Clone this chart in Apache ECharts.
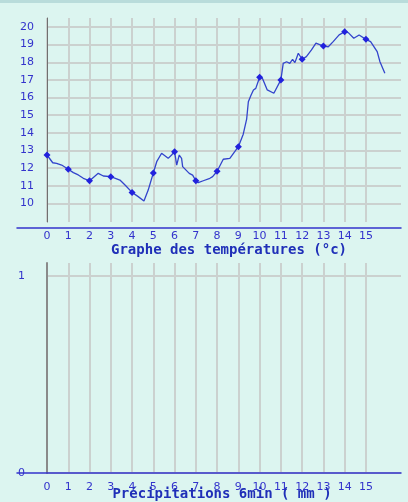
<!DOCTYPE html>
<html>
<head>
<meta charset="utf-8">
<script src="https://cdn.jsdelivr.net/npm/echarts@6/dist/echarts.min.js"></script>
<style>
html,body{margin:0;padding:0;background:#dcf5f0;}
#c{width:408px;height:502px;}
</style>
</head>
<body>
<div id="c"></div>
<script>
// ---- data ----
var hourTicks = [0,1,2,3,4,5,6,7,8,9,10,11,12,13,14,15];
var tempTicks = [10,11,12,13,14,15,16,17,18,19,20];
var precipTicks = [0,1];
var tempHours = [0,0.27,0.45,0.69,1,1.24,1.47,1.71,2,2.18,2.41,2.65,3,3.43,3.67,4,4.29,4.56,4.76,5,5.16,5.39,5.7,5.86,6,6.1,6.22,6.33,6.38,6.69,6.85,7,7.11,7.35,7.66,7.79,8,8.29,8.6,9,9.23,9.39,9.47,9.6,9.71,9.82,10,10.13,10.36,10.67,11,11.11,11.27,11.42,11.55,11.66,11.82,12,12.2,12.44,12.65,13,13.23,13.46,13.74,14,14.17,14.43,14.68,15,15.22,15.53,15.66,15.89];
var temps = [12.74,12.30,12.27,12.17,11.93,11.74,11.61,11.42,11.28,11.47,11.70,11.55,11.51,11.32,11.04,10.62,10.38,10.13,10.75,11.72,12.36,12.84,12.55,12.74,12.93,12.17,12.74,12.55,12.08,11.70,11.60,11.28,11.17,11.28,11.42,11.51,11.82,12.5,12.55,13.21,13.92,14.77,15.76,16.14,16.43,16.52,17.15,17.09,16.43,16.24,17.0,17.94,18.03,17.94,18.17,17.98,18.51,18.17,18.32,18.7,19.08,18.92,18.88,19.17,19.55,19.73,19.68,19.36,19.55,19.30,19.17,18.6,18.03,17.37];
var precipHours = [0,1,2,3,4,5,6,7,8,9,10,11,12,13,14,15];
var precip = [0,0,0,0,0,0,0,0,0,0,0,0,0,0,0,0];
var topTitle = 'Graphe des températures (°c)';
var bottomTitle = 'Précipitations 6min ( mm )';

// ---- chart ----
var blue = '#3333cc';
var gridCol = '#cbd1cf';
var labelFont = {color: blue, fontFamily: 'DejaVu Sans', fontSize: 11};
var tempData = tempHours.map(function(h,i){return [h,temps[i]];});
var precipData = precipHours.map(function(h,i){return [h,precip[i]];});

function dataXAxis(gi){
  return {
    type:'value', gridIndex:gi, min:0, max:16.65,
    axisLine:{show:false},
    axisTick:{show:false, customValues:hourTicks},
    axisLabel:Object.assign({customValues:hourTicks, margin:9}, labelFont),
    splitLine:{show:true, lineStyle:{color:gridCol, width:2}}
  };
}
function lineXAxis(gi){
  return {
    type:'value', gridIndex:gi, min:0, max:1,
    axisLine:{show:true, onZero:false, lineStyle:{color:blue, width:1.5}},
    axisTick:{show:false}, axisLabel:{show:false}, splitLine:{show:false}
  };
}
function hiddenY(gi){
  return {type:'value', gridIndex:gi, min:0, max:1, show:false};
}

var chart = echarts.init(document.getElementById('c'), null, {renderer:'canvas'});
chart.setOption({
  backgroundColor:'#dcf5f0',
  animation:false,
  graphic:[{type:'rect', left:0, top:0, shape:{width:408, height:3}, style:{fill:'#b9dcdb'}}],
  title:[
    {text:topTitle, left:224, top:238, textAlign:'center',
     textStyle:{color:'#1f2fb8', fontFamily:'DejaVu Sans Mono', fontWeight:'bold', fontSize:14}},
    {text:bottomTitle, left:217, top:482, textAlign:'center',
     textStyle:{color:'#1f2fb8', fontFamily:'DejaVu Sans Mono', fontWeight:'bold', fontSize:14}}
  ],
  grid:[
    {left:47, right:7, top:18, height:204},
    {left:17, right:7, top:18, height:210},
    {left:47, right:7, top:263, height:210},
    {left:17, right:7, top:263, height:210}
  ],
  xAxis:[dataXAxis(0), lineXAxis(1), dataXAxis(2), lineXAxis(3)],
  yAxis:[
    {type:'value', gridIndex:0, min:8.94, max:20.51,
     axisLine:{show:true, lineStyle:{color:'#707070', width:1}},
     axisTick:{show:false, customValues:tempTicks},
     axisLabel:Object.assign({customValues:tempTicks, margin:13}, labelFont),
     splitLine:{show:true, lineStyle:{color:gridCol, width:2}}},
    hiddenY(1),
    {type:'value', gridIndex:2, min:0, max:1.066,
     axisLine:{show:true, lineStyle:{color:'#8a8a8a', width:2}},
     axisTick:{show:false, customValues:precipTicks},
     axisLabel:Object.assign({customValues:precipTicks, margin:22}, labelFont),
     splitLine:{show:true, lineStyle:{color:gridCol, width:2}}},
    hiddenY(3)
  ],
  series:[
    {type:'line', xAxisIndex:0, yAxisIndex:0, data:tempData,
     showSymbol:true, symbol:'diamond',
     symbolSize:function(v){return Number.isInteger(v[0]) ? 7 : 0;},
     lineStyle:{color:'#3344cc', width:1.3},
     itemStyle:{color:'#2222dd'}, clip:false},
    {type:'bar', xAxisIndex:2, yAxisIndex:2, data:precipData,
     barWidth:6, itemStyle:{color:'#3344cc'}}
  ]
});
</script>
</body>
</html>
